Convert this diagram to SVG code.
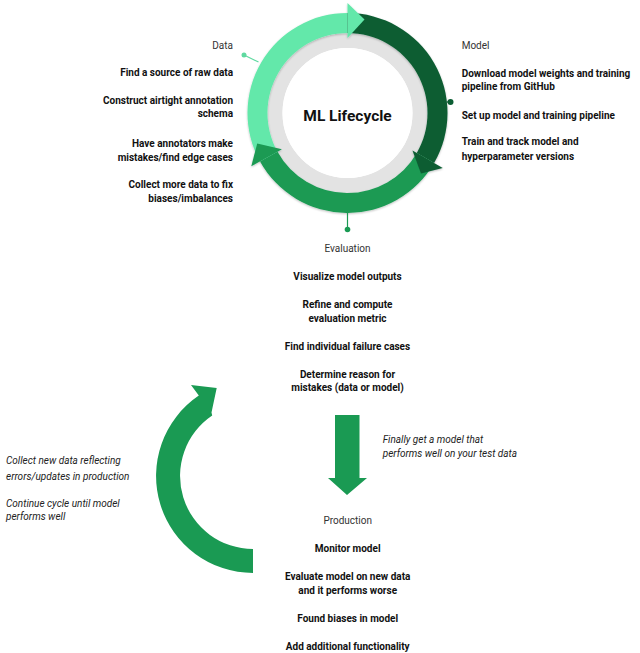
<svg xmlns="http://www.w3.org/2000/svg" width="640" height="653" viewBox="0 0 640 653">
<style>
text{font-family:Roboto,"Liberation Sans",Arial,sans-serif;font-size:10px;fill:#111}
.h{font-weight:400;fill:#333}
.b{font-weight:700}
.i{font-style:italic;fill:#222}
.r{text-anchor:end}
.c{text-anchor:middle}
.title{font-size:15.5px;font-weight:700;text-anchor:middle}
.light{fill:#63e8aa}
.dark{fill:#0b5d33}
.med{fill:#1a9a53}
</style>
<defs>
  <filter id="soft" x="-10%" y="-10%" width="120%" height="120%">
    <feGaussianBlur in="SourceAlpha" stdDeviation="1.2"/>
    <feOffset dx="0" dy="0.6" result="b"/>
    <feComponentTransfer><feFuncA type="linear" slope="0.25"/></feComponentTransfer>
    <feMerge><feMergeNode/><feMergeNode in="SourceGraphic"/></feMerge>
  </filter>
</defs>
<rect width="640" height="653" fill="#fff"/>
<g id="cycle">
  <circle cx="347.5" cy="113" r="72.5" fill="none" stroke="#e3e3e3" stroke-width="15"/>
  <circle cx="347.5" cy="113" r="65" fill="#fff"/>
  <g filter="url(#soft)">
  <path class="light" d="M260.04 161.48 A100 100 0 0 1 347.5 13 L347.5 33 A80 80 0 0 0 277.53 151.78 Z"/>
  <path class="dark" d="M347.5 13 A100 100 0 0 1 434.1 163 L416.78 153 A80 80 0 0 0 347.5 33 Z"/>
  <path class="med" d="M434.1 163 A100 100 0 0 1 260.04 161.48 L277.53 151.78 A80 80 0 0 0 416.78 153 Z"/>
  <polygon class="light" points="347.5,3 364.5,19.6 347.5,38"/>
  <polygon class="dark" points="442.76,168 421,173.5 412.45,150.5"/>
  <polygon class="med" points="251.29,166.33 257.2,143.6 281.9,149.36"/>
  </g>
  <text class="title" x="347.5" y="120.5">ML Lifecycle</text>
</g>
<g id="connectors">
  <line x1="244" y1="55" x2="258.5" y2="62" stroke="#5fd9a0" stroke-width="1.2"/>
  <circle cx="244" cy="55" r="2.5" fill="#5fd9a0"/>
  <line x1="446.5" y1="102" x2="450.5" y2="102" stroke="#0b5d33" stroke-width="1.2"/>
  <circle cx="450.5" cy="102" r="3" fill="#0b5d33"/>
  <line x1="347.5" y1="212" x2="347.5" y2="229" stroke="#1a9a53" stroke-width="1.2"/>
  <circle cx="347.5" cy="229.5" r="2.8" fill="#1a9a53"/>
  <path id="down-arrow" class="med" d="M335 415 H359.5 V478 H367 L347 495 L328 478 H335 Z"/>
  <path id="return-arrow" class="med" d="M253 573 A97 97 0 0 1 198.8 395.6 L191 385 L216.7 388 L211.5 412.5 L212.2 415.5 A73 73 0 0 0 253 549 Z"/>
</g>
<g id="data">
  <text class="h r" x="233" y="48.5">Data</text>
  <text class="b r" x="233" y="76.2">Find a source of raw data</text>
  <text class="b r" x="233" y="104.2">Construct airtight annotation</text>
  <text class="b r" x="233" y="117.2">schema</text>
  <text class="b r" x="233" y="146.8">Have annotators make</text>
  <text class="b r" x="233" y="160.8">mistakes/find edge cases</text>
  <text class="b r" x="233" y="187.5">Collect more data to fix</text>
  <text class="b r" x="233" y="201.8">biases/imbalances</text>
</g>
<g id="model">
  <text class="h" x="461.7" y="48.5">Model</text>
  <text class="b" x="461.7" y="76.8">Download model weights and training</text>
  <text class="b" x="461.7" y="89.5">pipeline from GitHub</text>
  <text class="b" x="461.7" y="118.5">Set up model and training pipeline</text>
  <text class="b" x="461.7" y="145.2">Train and track model and</text>
  <text class="b" x="461.7" y="159.5">hyperparameter versions</text>
</g>
<g id="evaluation">
  <text class="h c" x="347.5" y="251.8">Evaluation</text>
  <text class="b c" x="347.5" y="279.5">Visualize model outputs</text>
  <text class="b c" x="347.5" y="307.5">Refine and compute</text>
  <text class="b c" x="347.5" y="321.8">evaluation metric</text>
  <text class="b c" x="347.5" y="349.5">Find individual failure cases</text>
  <text class="b c" x="347.5" y="377.5">Determine reason for</text>
  <text class="b c" x="347.5" y="390.8">mistakes (data or model)</text>
</g>
<g id="transition-note">
  <text class="i" x="382.7" y="442.8">Finally get a model that</text>
  <text class="i" x="382.7" y="456.8">performs well on your test data</text>
</g>
<g id="production">
  <text class="h c" x="347.7" y="523.5">Production</text>
  <text class="b c" x="347.7" y="551.8">Monitor model</text>
  <text class="b c" x="347.7" y="580.2">Evaluate model on new data</text>
  <text class="b c" x="347.7" y="594.2">and it performs worse</text>
  <text class="b c" x="347.7" y="621.8">Found biases in model</text>
  <text class="b c" x="347.7" y="649.5">Add additional functionality</text>
</g>
<g id="feedback-note">
  <text class="i" x="6" y="464.2">Collect new data reflecting</text>
  <text class="i" x="6" y="479.5">errors/updates in production</text>
  <text class="i" x="6" y="506.8">Continue cycle until model</text>
  <text class="i" x="6" y="520.2">performs well</text>
</g>
</svg>
